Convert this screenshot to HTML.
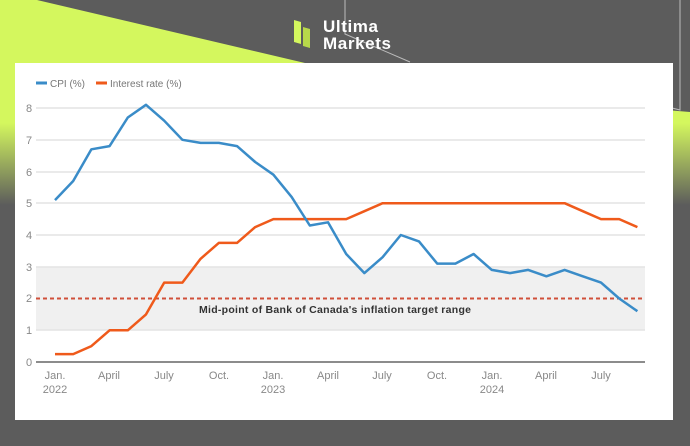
<!DOCTYPE html>
<html><head><style>
html,body{margin:0;padding:0;background:#5c5c5c;}
svg{display:block;}
</style></head><body>
<svg width="690" height="446" xmlns="http://www.w3.org/2000/svg" font-family="Liberation Sans, sans-serif">
<defs>
<linearGradient id="lg" x1="0" y1="0" x2="0" y2="1">
<stop offset="0" stop-color="#d4f75e"/>
<stop offset="0.6" stop-color="#d4f75e"/>
<stop offset="1" stop-color="#5c5c5c"/>
</linearGradient>
</defs>
<rect width="690" height="446" fill="#5c5c5c"/>
<polygon points="0,0 37,0 420,90 690,112 690,205 0,205" fill="url(#lg)"/>
<polyline points="345,0 345,34 410,62" fill="none" stroke="#bbb" stroke-width="1"/>
<polyline points="680,0 680,110 672,108" fill="none" stroke="#bbb" stroke-width="1"/>
<!-- logo -->
<polygon points="294,20 301,22 301,44 294,42" fill="#d4f75e"/>
<polygon points="303,27 310,29 310,48 303,46" fill="#b7d84a"/>
<text x="323" y="32" fill="#fff" font-size="17" font-weight="bold" textLength="55">Ultima</text>
<text x="323" y="49" fill="#fff" font-size="17" font-weight="bold" textLength="68">Markets</text>
<!-- card -->
<rect x="15" y="63" width="658" height="357" fill="#fff"/>
<line x1="36" y1="83" x2="47" y2="83" stroke="#3a8cc8" stroke-width="3"/>
<text x="50" y="87" font-size="10" fill="#777">CPI (%)</text>
<line x1="96" y1="83" x2="107" y2="83" stroke="#ef5a1b" stroke-width="3"/>
<text x="110" y="87" font-size="10" fill="#777">Interest rate (%)</text>
<rect x="36" y="267" width="609" height="63" fill="#f0f0f0"/>
<g stroke="#e4e4e4" stroke-width="1.5">
<line x1="36" y1="108" x2="645" y2="108"/><line x1="36" y1="140" x2="645" y2="140"/>
<line x1="36" y1="172" x2="645" y2="172"/><line x1="36" y1="203" x2="645" y2="203"/>
<line x1="36" y1="235" x2="645" y2="235"/><line x1="36" y1="267" x2="645" y2="267"/>
<line x1="36" y1="330" x2="645" y2="330"/>
</g>
<line x1="36" y1="362" x2="645" y2="362" stroke="#666" stroke-width="1.5"/>
<g font-size="11" fill="#888" text-anchor="middle">
<text x="29" y="112">8</text><text x="29" y="144">7</text><text x="29" y="176">6</text>
<text x="29" y="207">5</text><text x="29" y="239">4</text><text x="29" y="271">3</text>
<text x="29" y="302">2</text><text x="29" y="334">1</text><text x="29" y="366">0</text>
<text x="55" y="379">Jan.</text><text x="55" y="393">2022</text>
<text x="109" y="379">April</text><text x="164" y="379">July</text><text x="219" y="379">Oct.</text>
<text x="273" y="379">Jan.</text><text x="273" y="393">2023</text>
<text x="328" y="379">April</text><text x="382" y="379">July</text><text x="437" y="379">Oct.</text>
<text x="492" y="379">Jan.</text><text x="492" y="393">2024</text>
<text x="546" y="379">April</text><text x="601" y="379">July</text>
</g>
<line x1="36" y1="298.5" x2="645" y2="298.5" stroke="#d0503a" stroke-width="2" stroke-dasharray="4,3"/>
<text x="335" y="313" font-size="10.5" font-weight="bold" fill="#333" text-anchor="middle" textLength="272">Mid-point of Bank of Canada's inflation target range</text>
<polyline fill="none" stroke="#ef5a1b" stroke-width="2.5" stroke-linejoin="round" points="
55,354.1 73.2,354.1 91.4,346.1 109.6,330.3 127.8,330.3 146,314.4 164.2,282.6 182.4,282.6 200.6,258.8 218.8,242.9 237,242.9 255.2,227.1 273.4,219.1 291.6,219.1 309.8,219.1 328,219.1 346.2,219.1 364.4,211.2 382.6,203.2 400.8,203.2 419,203.2 437.2,203.2 455.4,203.2 473.6,203.2 491.8,203.2 510,203.2 528.2,203.2 546.4,203.2 564.6,203.2 582.8,211.2 601,219.1 619.2,219.1 637.4,227.1"/>
<polyline fill="none" stroke="#3a8cc8" stroke-width="2.5" stroke-linejoin="round" points="
55,200.1 73.2,181 91.4,149.3 109.6,146.1 127.8,117.5 146,104.8 164.2,120.7 182.4,139.8 200.6,142.9 218.8,142.9 237,146.1 255.2,162 273.4,174.7 291.6,196.9 309.8,225.5 328,222.3 346.2,254 364.4,273.1 382.6,257.2 400.8,235 419,241.4 437.2,263.6 455.4,263.6 473.6,254 491.8,269.9 510,273.1 528.2,269.9 546.4,276.3 564.6,269.9 582.8,276.3 601,282.6 619.2,298.5 637.4,311.2"/>
</svg>
</body></html>
